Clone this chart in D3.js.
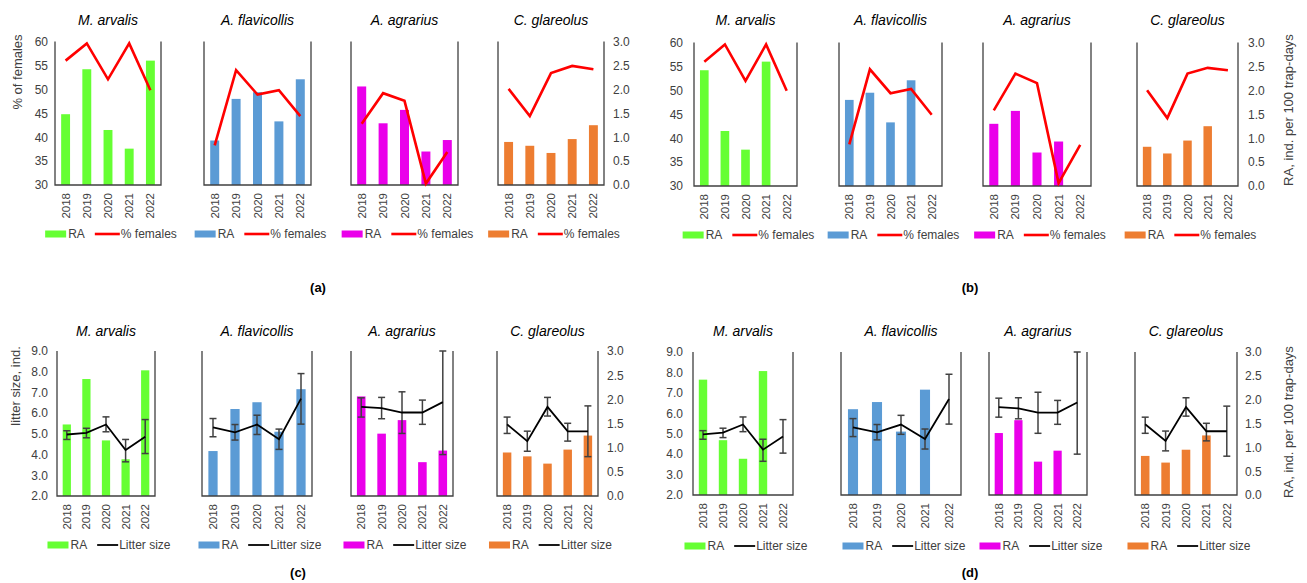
<!DOCTYPE html>
<html lang="en">
<head>
<meta charset="UTF-8">
<title>RA, % females and litter size by species</title>
<script src="https://d3js.org/d3.v7.min.js"></script>
<style>
    body { margin: 0; background: #fff; }
    svg { display: block; font-family: "Liberation Sans", Arial, sans-serif; }
    .tick text { fill: #404040; font-size: 12px; }
    .title { font-size: 14px; font-style: italic; fill: #000; }
    .legend text { font-size: 12px; fill: #404040; }
    .axis-title { font-size: 13px; fill: #404040; }
    .panel-label { font-size: 13px; font-weight: bold; fill: #000; }
</style>
</head>
<body>
<script>
const years = ["2018", "2019", "2020", "2021", "2022"];
const species = ["M. arvalis", "A. flavicollis", "A. agrarius", "C. glareolus"];
const barColors = ["#66ff33", "#5b9bd5", "#ea00ea", "#ed7d31"];

// RA, ind. per 100 trap-days - panels (a) and (c)
const raSame = [
    [1.48, 2.42, 1.15, 0.76, 2.60],
    [0.93, 1.80, 1.94, 1.33, 2.21],
    [2.06, 1.29, 1.57, 0.70, 0.94],
    [0.90, 0.82, 0.67, 0.96, 1.25]
];
// RA - panels (b) and (d), no bar for 2022
const raNext = [
    [2.42, 1.15, 0.76, 2.60, null],
    [1.80, 1.95, 1.33, 2.21, null],
    [1.30, 1.57, 0.70, 0.93, null],
    [0.82, 0.68, 0.95, 1.25, null]
];

// % of females
const femalesA = [
    [56.0, 59.6, 52.1, 59.6, 49.8],
    [38.3, 54.0, 48.9, 49.8, 44.4],
    [42.8, 49.2, 47.6, 30.3, 36.9],
    [50.1, 44.4, 53.4, 54.9, 54.2]
];
const femalesB = [
    [56.0, 59.6, 52.0, 59.6, 49.9],
    [38.7, 54.4, 49.4, 50.3, 44.9],
    [45.8, 53.5, 51.5, 30.6, 38.6],
    [50.0, 44.2, 53.5, 54.7, 54.2]
];

// litter size, mean with error bar ends
const litterMean = [
    [4.97, 5.05, 5.45, 4.22, 4.86],
    [5.31, 5.07, 5.45, 4.74, 6.70],
    [6.30, 6.24, 6.03, 6.03, 6.53],
    [5.46, 4.65, 6.30, 5.12, 5.12]
];
const litterLow = [
    [4.73, 4.81, 5.10, 3.65, 4.05],
    [4.86, 4.70, 4.97, 4.25, 5.47],
    [5.81, 5.73, 5.02, 5.46, 4.00],
    [5.02, 4.16, 5.86, 4.65, 3.90]
];
const litterHigh = [
    [5.15, 5.27, 5.82, 4.73, 5.69],
    [5.74, 5.45, 5.90, 5.23, 7.91],
    [6.74, 6.76, 7.03, 6.63, 9.00],
    [5.81, 5.13, 6.76, 5.51, 6.35]
];

const femalesTicks = [30, 35, 40, 45, 50, 55, 60];
const litterTicks = [2, 3, 4, 5, 6, 7, 8, 9];
const raTicks = [0, 0.5, 1, 1.5, 2, 2.5, 3];

const panels = [
    {label: "(a)", kind: "females", ra: raSame, line: femalesA,
     frames: [[55, 161], [204, 311], [351, 458], [498, 604]],
     top: 41.5, bottom: 185, titleY: 25, legendY: 234,
     leftPad: 7, rightPad: 9, leftTitle: {text: "% of females", x: 17, y: 72},
     labelPos: [318, 292]},
    {label: "(b)", kind: "females", ra: raNext, line: femalesB,
     frames: [[694, 797], [839, 942], [983, 1091], [1137, 1238]],
     top: 42.5, bottom: 186, titleY: 25, legendY: 235,
     leftPad: 11, rightPad: 10, rightTitle: {text: "RA, ind. per 100 trap-days", x: 1288, y: 110},
     labelPos: [970, 292]},
    {label: "(c)", kind: "litter", ra: raSame,
     frames: [[57, 155], [202, 312], [351, 453], [497, 598]],
     top: 351, bottom: 496, titleY: 336, legendY: 545,
     leftPad: 9, rightPad: 9, leftTitle: {text: "litter size, ind.", x: 15, y: 386},
     labelPos: [298, 577]},
    {label: "(d)", kind: "litter", ra: raNext,
     frames: [[693, 793], [841, 961], [989, 1087], [1135, 1237]],
     top: 352, bottom: 495, titleY: 336, legendY: 546,
     leftPad: 10, rightPad: 8, rightTitle: {text: "RA, ind. per 100 trap-days", x: 1288, y: 422},
     labelPos: [970, 577]}
];

const svg = d3.select("body").append("svg")
    .attr("width", 1307)
    .attr("height", 583);

panels.forEach(p => {
    const g = svg.append("g");
    const isLitter = p.kind === "litter";
    const yL = d3.scaleLinear()
        .domain(isLitter ? [2, 9] : [30, 60])
        .range([p.bottom, p.top]);
    const yR = d3.scaleLinear().domain([0, 3]).range([p.bottom, p.top]);

    // left value axis (labels only)
    g.append("g")
        .attr("transform", `translate(${p.frames[0][0]},0)`)
        .call(d3.axisLeft(yL).tickValues(isLitter ? litterTicks : femalesTicks)
            .tickFormat(isLitter ? d3.format(".1f") : d3.format("d"))
            .tickSize(0).tickPadding(p.leftPad))
        .call(a => a.select(".domain").remove())
        .selectAll("text").style("font-size", "12px");

    // right RA axis
    g.append("g")
        .attr("transform", `translate(${p.frames[3][1]},0)`)
        .call(d3.axisRight(yR).tickValues(raTicks).tickFormat(d3.format(".1f"))
            .tickSize(0).tickPadding(p.rightPad))
        .call(a => a.select(".domain").remove());

    species.forEach((sp, i) => {
        const [x0, x1] = p.frames[i];
        const x = d3.scaleBand().domain(years).range([x0, x1])
            .paddingInner(0.58).paddingOuter(0.29);
        const cx = d => x(d) + x.bandwidth() / 2;
        const sg = g.append("g");

        // bars
        const barData = years.map((yr, j) => ({year: yr, v: p.ra[i][j]})).filter(d => d.v != null);
        sg.selectAll("rect.bar")
            .data(barData)
            .join("rect")
            .attr("class", "bar")
            .attr("x", d => x(d.year))
            .attr("width", x.bandwidth())
            .attr("y", d => yR(d.v))
            .attr("height", d => yR(0) - yR(d.v))
            .attr("fill", barColors[i]);

        // frame: left, bottom, right
        sg.append("path")
            .attr("d", `M${x0},${p.top}V${p.bottom}H${x1}V${p.top}`)
            .attr("fill", "none")
            .attr("stroke", "#404040")
            .attr("stroke-width", 1.3);

        // year labels
        sg.append("g")
            .attr("transform", `translate(0,${p.bottom})`)
            .call(d3.axisBottom(x).tickSize(0))
            .call(a => a.select(".domain").remove())
            .selectAll("text")
            .attr("transform", "rotate(-90)")
            .attr("text-anchor", "end")
            .attr("x", -8)
            .attr("y", 0)
            .attr("dy", "0.35em")
            .style("font-size", "11.5px");

        // line
        const lineVals = years.map((yr, j) => ({year: yr, v: isLitter ? litterMean[i][j] : p.line[i][j]}));
        if (isLitter) {
            const errs = years.map((yr, j) => ({year: yr, lo: litterLow[i][j], hi: litterHigh[i][j]}));
            const eg = sg.append("g").attr("stroke", "#404040").attr("stroke-width", 1.5);
            errs.forEach(e => {
                const xc = cx(e.year);
                eg.append("line").attr("x1", xc).attr("x2", xc).attr("y1", yL(e.lo)).attr("y2", yL(e.hi));
                eg.append("line").attr("x1", xc - 3.5).attr("x2", xc + 3.5).attr("y1", yL(e.lo)).attr("y2", yL(e.lo));
                eg.append("line").attr("x1", xc - 3.5).attr("x2", xc + 3.5).attr("y1", yL(e.hi)).attr("y2", yL(e.hi));
            });
        }
        sg.append("path")
            .datum(lineVals)
            .attr("d", d3.line().x(d => cx(d.year)).y(d => yL(d.v)))
            .attr("fill", "none")
            .attr("stroke", isLitter ? "#000" : "#ff0000")
            .attr("stroke-width", isLitter ? 1.8 : 2.6)
            .attr("stroke-linejoin", "miter");

        // title
        sg.append("text")
            .attr("class", "title")
            .attr("x", (x0 + x1) / 2)
            .attr("y", p.titleY)
            .attr("text-anchor", "middle")
            .text(sp);

        // legend
        const lg = sg.append("g").attr("class", "legend");
        lg.append("rect").attr("x", 0).attr("y", -3.5).attr("width", 21).attr("height", 7).attr("fill", barColors[i]);
        const raText = lg.append("text").attr("x", 23).attr("dy", "0.35em").text("RA");
        const lx = 23 + raText.node().getComputedTextLength() + 10;
        const lineLen = isLitter ? 21 : 25;
        lg.append("line").attr("x1", lx).attr("x2", lx + lineLen)
            .attr("stroke", isLitter ? "#000" : "#ff0000")
            .attr("stroke-width", isLitter ? 1.8 : 2.6);
        const lt = lg.append("text").attr("x", lx + lineLen + 1).attr("dy", "0.35em")
            .text(isLitter ? "Litter size" : "% females");
        const total = lx + lineLen + 1 + lt.node().getComputedTextLength();
        lg.attr("transform", `translate(${(x0 + x1) / 2 + 3 - total / 2},${p.legendY})`);
    });

    if (p.leftTitle) {
        g.append("text").attr("class", "axis-title")
            .attr("transform", `translate(${p.leftTitle.x},${p.leftTitle.y}) rotate(-90)`)
            .attr("text-anchor", "middle").attr("dy", "0.35em")
            .text(p.leftTitle.text);
    }
    if (p.rightTitle) {
        g.append("text").attr("class", "axis-title")
            .attr("transform", `translate(${p.rightTitle.x},${p.rightTitle.y}) rotate(-90)`)
            .attr("text-anchor", "middle").attr("dy", "0.35em")
            .text(p.rightTitle.text);
    }

    g.append("text").attr("class", "panel-label")
        .attr("x", p.labelPos[0]).attr("y", p.labelPos[1])
        .attr("text-anchor", "middle")
        .text(p.label);
});
</script>
</body>
</html>
